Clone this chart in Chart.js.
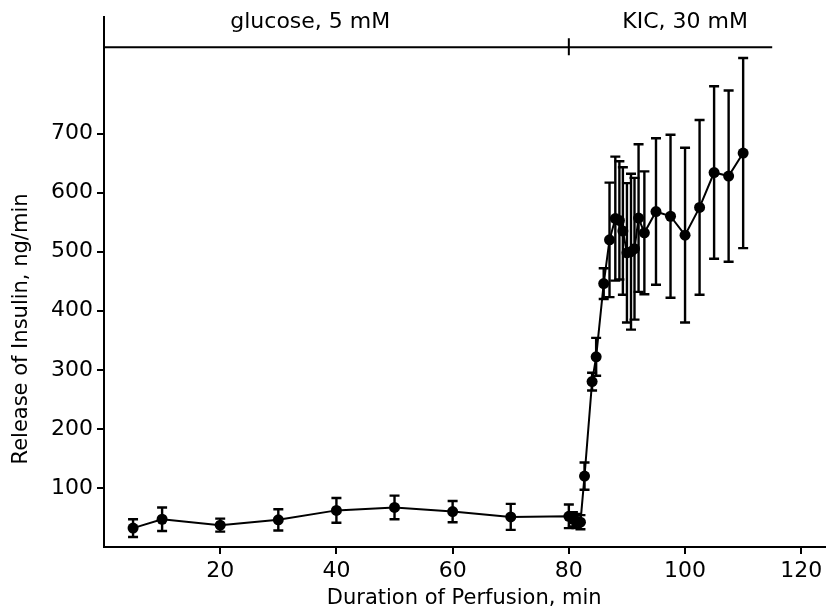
<!DOCTYPE html>
<html>
<head>
<meta charset="utf-8">
<script src="https://cdn.jsdelivr.net/npm/chart.js@4/dist/chart.umd.min.js"></script>
<style>
  html, body { margin: 0; padding: 0; background: #fff; }
  #wrap { width: 830px; height: 615px; }
</style>
</head>
<body>
<div id="wrap"><canvas id="insulinChart" width="830" height="615"></canvas></div>
<script>
// DONNEES

const times = [5, 10, 20, 30, 40, 50, 60, 70, 80, 80.7, 81.3, 82, 82.7, 84, 84.7, 86, 87, 88, 88.7, 89.3, 90, 90.7, 91.3, 92, 93, 95, 97.5, 100, 102.5, 105, 107.5, 110];
const insulin = [32, 47, 37, 46, 62, 67, 60, 51, 52, 47, 44, 42, 120, 280, 322, 446, 520, 556, 553, 535, 498, 500, 505, 557, 532, 568, 560, 528, 575, 634, 628, 667];
const insulinErr = [15, 20, 11, 18, 21, 20, 18, 22, 20, 12, 12, 12, 23, 15, 32, 26, 97, 105, 100, 108, 118, 132, 120, 125, 104, 124, 138, 148, 148, 146, 145, 161];

const xTicks = [20, 40, 60, 80, 100, 120];
const yTicks = [100, 200, 300, 400, 500, 600, 700];

const phaseLabels = ['glucose, 5 mM', 'KIC, 30 mM'];
const phaseStart = [0, 80];
const phaseEnd = [80, 115];

const FONT = 'DejaVu Sans';

// ERROR BARS + BARRE DES PHASES + TITRE Y

const errorBars = {
    id: 'errorBars',
    beforeDatasetsDraw(chart) {
        const ctx = chart.ctx;
        const xs = chart.scales.x, ys = chart.scales.y;
        ctx.save();
        ctx.strokeStyle = '#000';
        ctx.lineWidth = 2.4;
        for (let i = 0; i < times.length; i++) {
            const x = xs.getPixelForValue(times[i]);
            const top = ys.getPixelForValue(insulin[i] + insulinErr[i]);
            const bot = ys.getPixelForValue(insulin[i] - insulinErr[i]);
            ctx.beginPath();
            ctx.moveTo(x, top); ctx.lineTo(x, bot);
            ctx.moveTo(x - 5, top); ctx.lineTo(x + 5, top);
            ctx.moveTo(x - 5, bot); ctx.lineTo(x + 5, bot);
            ctx.stroke();
        }
        ctx.restore();
    }
};

const phaseBar = {
    id: 'phaseBar',
    afterDraw(chart) {
        const ctx = chart.ctx;
        const xs = chart.scales.x, ys = chart.scales.y;
        const labelAt = [35.5, 100];
        const lineY = ys.getPixelForValue(846);
        const textY = ys.getPixelForValue(870);
        ctx.save();
        ctx.strokeStyle = '#000';
        ctx.fillStyle = '#000';
        ctx.lineWidth = 2;
        ctx.beginPath();
        ctx.moveTo(xs.getPixelForValue(phaseStart[0]), lineY);
        ctx.lineTo(xs.getPixelForValue(phaseEnd[phaseEnd.length - 1]), lineY);
        for (let i = 1; i < phaseStart.length; i++) {
            const tx = xs.getPixelForValue(phaseStart[i]);
            ctx.moveTo(tx, lineY - 9);
            ctx.lineTo(tx, lineY + 8);
        }
        ctx.stroke();
        ctx.font = '22px "' + FONT + '"';
        ctx.textAlign = 'center';
        ctx.textBaseline = 'bottom';
        for (let i = 0; i < phaseLabels.length; i++) {
            ctx.fillText(phaseLabels[i], xs.getPixelForValue(labelAt[i]), textY);
        }
        ctx.restore();
    }
};

const yTitle = {
    id: 'yTitle',
    afterDraw(chart) {
        const ctx = chart.ctx;
        ctx.save();
        ctx.translate(22, 329);
        ctx.rotate(-Math.PI / 2);
        ctx.font = '21px "' + FONT + '"';
        ctx.fillStyle = '#000';
        ctx.textAlign = 'center';
        ctx.textBaseline = 'middle';
        ctx.fillText('Release of Insulin, ng/min', 0, 0);
        ctx.restore();
    }
};

// GRAPH

const data = {
    datasets: [{
        label: 'Insulin',
        data: times.map((t, i) => ({ x: t, y: insulin[i] })),
        showLine: true,
        borderColor: '#000',
        backgroundColor: '#000',
        borderWidth: 2,
        pointRadius: 5.5,
        pointBackgroundColor: '#000',
        pointBorderWidth: 0,
        tension: 0
    }]
};

const config = {
    type: 'scatter',
    data: data,
    options: {
        responsive: false,
        animation: false,
        layout: { padding: { top: 15, right: 4, left: 0, bottom: 0 } },
        plugins: {
            legend: { display: false },
            tooltip: { enabled: false }
        },
        scales: {
            x: {
                type: 'linear',
                min: 0,
                max: 124,
                afterBuildTicks: (scale) => { scale.ticks = xTicks.map(v => ({ value: v })); },
                afterFit: (scale) => { scale.height = 68; },
                grid: { display: true, drawOnChartArea: false, drawTicks: true, tickLength: 7, color: '#000', lineWidth: 2 },
                border: { display: true, color: '#000', width: 2 },
                ticks: { color: '#000', font: { family: FONT, size: 22 }, padding: 4, maxRotation: 0 },
                title: { display: true, text: 'Duration of Perfusion, min', color: '#000', font: { family: FONT, size: 21 }, padding: { top: 6 } }
            },
            y: {
                min: 0,
                max: 897,
                afterBuildTicks: (scale) => { scale.ticks = yTicks.map(v => ({ value: v })); },
                afterFit: (scale) => { scale.width = 104; },
                grid: { display: true, drawOnChartArea: false, drawTicks: true, tickLength: 7, color: '#000', lineWidth: 2 },
                border: { display: true, color: '#000', width: 2 },
                ticks: { color: '#000', font: { family: FONT, size: 22 }, padding: 4 }
            }
        }
    },
    plugins: [errorBars, phaseBar, yTitle]
};

const insulinChart = new Chart(
    document.getElementById('insulinChart'),
    config
);

// FIN GRAPH
</script>
</body>
</html>
